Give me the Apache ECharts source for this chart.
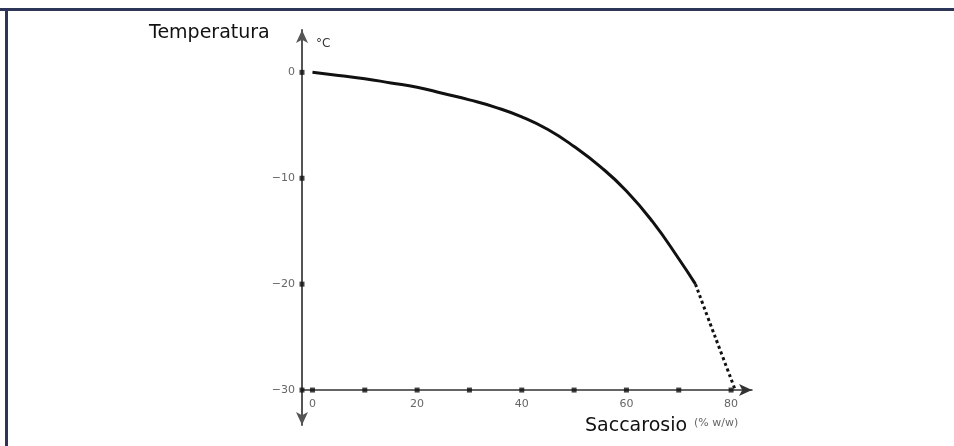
<!DOCTYPE html>
<html>
<head>
<meta charset="utf-8">
<script src="https://cdn.jsdelivr.net/npm/echarts@6/dist/echarts.min.js"></script>
<style>
  html, body { margin: 0; padding: 0; background: #fff; }
  #chart { width: 954px; height: 446px; }
</style>
</head>
<body>
<div id="chart"></div>
<script>
// punto di congelamento vs saccarosio (% w/w)
const curveX = [0, 5, 10, 15, 20, 25, 30, 35, 40, 45, 50, 55, 60, 65, 70, 73.2]
const curveY = [0, -0.3, -0.6, -1.0, -1.4, -2.0, -2.6, -3.3, -4.2, -5.4, -7.0, -8.9, -11.2, -14.1, -17.6, -20]
const dottedX = [73.2, 75.6, 78.2, 80.8]
const dottedY = [-20, -23.2, -26.6, -30]
const xTicks = [0, 10, 20, 30, 40, 50, 60, 70, 80]
const xLabels = [0, 20, 40, 60, 80]
const yTicks = [0, -10, -20, -30]

const xMin = -2
const yBase = -30

const chart = echarts.init(document.getElementById("chart"))

const zip = (a, b) => a.map((v, i) => [v, b[i]])
const minus = v => (v < 0 ? "\u2212" + -v : String(v))

const options = {
  animation: false,
  grid: { left: 302, right: 202, top: 30, bottom: 21 },
  xAxis: {
    type: "value",
    min: xMin,
    max: 84,
    offset: -35,
    splitLine: { show: false },
    axisTick: { show: false },
    axisLine: {
      onZero: false,
      symbol: ["none", "arrow"],
      symbolSize: [9, 13],
      lineStyle: { color: "#333", width: 1.5 }
    },
    axisLabel: {
      customValues: xLabels,
      color: "#666",
      fontSize: 11,
      margin: 9,
      fontFamily: "DejaVu Sans"
    }
  },
  yAxis: {
    type: "value",
    min: -33.3,
    max: 4,
    splitLine: { show: false },
    axisTick: { show: false },
    axisLine: {
      onZero: false,
      symbol: ["arrow", "arrow"],
      symbolSize: [9, 13],
      lineStyle: { color: "#555", width: 2 }
    },
    axisLabel: {
      customValues: yTicks,
      formatter: minus,
      color: "#666",
      fontSize: 11,
      margin: 7,
      fontFamily: "DejaVu Sans"
    }
  },
  graphic: [
    { type: "rect", shape: { x: 0, y: 8, width: 954, height: 3 }, style: { fill: "#2d3659" } },
    { type: "rect", shape: { x: 5, y: 8, width: 3, height: 438 }, style: { fill: "#2d3659" } },
    { type: "text", left: 149, top: 24, style: { text: "Temperatura", fontSize: 19, fontFamily: "DejaVu Sans", fill: "#111" } },
    { type: "text", left: 316, top: 38, style: { text: "°C", fontSize: 12, fontFamily: "DejaVu Sans", fill: "#333" } },
    { type: "text", left: 585, top: 417, style: { text: "Saccarosio", fontSize: 19, fontFamily: "DejaVu Sans", fill: "#111" } },
    { type: "text", left: 694, top: 418, style: { text: "(% w/w)", fontSize: 11, fontFamily: "DejaVu Sans", fill: "#666" } }
  ],
  series: [
    {
      type: "line",
      data: zip(curveX, curveY),
      smooth: 0.5,
      showSymbol: false,
      lineStyle: { color: "#111", width: 3 }
    },
    {
      type: "line",
      data: zip(dottedX, dottedY),
      smooth: 0.5,
      showSymbol: false,
      lineStyle: { color: "#111", width: 3, type: [3, 3], cap: "butt" }
    },
    {
      // tacche a puntino sugli assi
      type: "scatter",
      symbol: "rect",
      symbolSize: 5,
      itemStyle: { color: "#111" },
      data: xTicks.map(v => [v, yBase]).concat(yTicks.map(v => [xMin, v]))
    }
  ]
}
chart.setOption(options)
</script>
</body>
</html>
